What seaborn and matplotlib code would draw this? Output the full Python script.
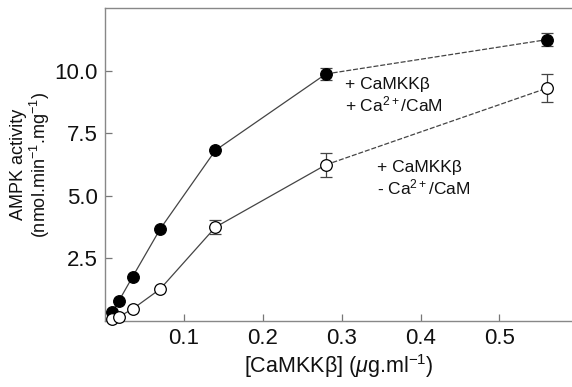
import pandas as pd
import seaborn as sns
import matplotlib.pyplot as plt

# CaMKKbeta concentration (ug/ml) and AMPK activity
conc = [0.00875, 0.0175, 0.035, 0.07, 0.14, 0.28, 0.56]
with_cam = [0.37, 0.80, 1.77, 3.68, 6.82, 9.87, 11.24]
with_cam_err = [0, 0, 0, 0, 0, 0.25, 0.25]
without_cam = [0.08, 0.17, 0.48, 1.28, 3.75, 6.24, 9.30]
without_cam_err = [0, 0, 0, 0, 0.29, 0.47, 0.55]

x_ticks = [0.1, 0.2, 0.3, 0.4, 0.5]
y_ticks = [2.5, 5.0, 7.5, 10.0]

sns.set_theme(style="ticks")
plt.rcParams['font.family'] = ['Liberation Sans', 'DejaVu Sans']
plt.rcParams['mathtext.fontset'] = 'custom'
plt.rcParams['mathtext.rm'] = 'Liberation Sans'
plt.rcParams['mathtext.it'] = 'Liberation Sans:italic'

df = pd.concat([
    pd.DataFrame({"conc": conc, "act": with_cam, "err": with_cam_err, "cond": "plus"}),
    pd.DataFrame({"conc": conc, "act": without_cam, "err": without_cam_err, "cond": "minus"}),
], ignore_index=True)

fig = plt.figure(figsize=(5.72, 3.87), dpi=100)
ax = fig.add_axes([0.1836, 0.1705, 0.8164, 0.8085])

line_col = "#444444"
for cond, face in [("plus", "black"), ("minus", "white")]:
    sub = df[df["cond"] == cond].reset_index(drop=True)
    # solid segments up to 0.28, dashed for the last one
    sns.lineplot(data=sub.iloc[:-1], x="conc", y="act", ax=ax, color=line_col,
                 lw=0.9, estimator=None, sort=False, zorder=2)
    sns.lineplot(data=sub.iloc[-2:], x="conc", y="act", ax=ax, color=line_col,
                 lw=0.9, ls=(0, (4, 1.5)), estimator=None, sort=False, zorder=2)
    err = sub[sub["err"] > 0]
    ax.errorbar(err["conc"], err["act"], yerr=err["err"], fmt="none",
                ecolor=line_col, elinewidth=0.9, capsize=4, capthick=0.9, zorder=3)
    sns.scatterplot(data=sub, x="conc", y="act", ax=ax, s=70, color=face,
                    edgecolor="black", linewidth=0.9, zorder=4, clip_on=False)

ax.set_xlim(0, 0.592)
ax.set_ylim(0, 12.5)
ax.set_xticks(x_ticks)
ax.set_xticklabels([f"{t:.1f}" for t in x_ticks])
ax.set_yticks(y_ticks)
ax.set_yticklabels([f"{t:.1f}" for t in y_ticks])
ax.tick_params(direction="in", length=5, width=0.9, color="#777777",
               labelsize=16, pad=5, labelcolor="#111111")

for side in ["left", "bottom", "top"]:
    ax.spines[side].set_color("#888888")
    ax.spines[side].set_linewidth(1.0)
ax.spines["right"].set_visible(False)

ax.set_xlabel("[CaMKK\u03b2] ($\\mu$g.ml$^{-1}$)", fontsize=15.5, color="#111111", labelpad=2)
ax.set_ylabel("AMPK activity\n(nmol.min$^{-1}$.mg$^{-1}$)", fontsize=13, color="#111111",
              labelpad=2, linespacing=1.05)

ax.text(0.304, 9.75, "+ CaMKK\u03b2\n+ Ca$^{2+}$/CaM", fontsize=12.5, va="top",
        ha="left", color="#111111", linespacing=1.15)
ax.text(0.345, 6.45, "+ CaMKK\u03b2\n- Ca$^{2+}$/CaM", fontsize=12.5, va="top",
        ha="left", color="#111111", linespacing=1.15)

fig.savefig("out.png", dpi=100)
